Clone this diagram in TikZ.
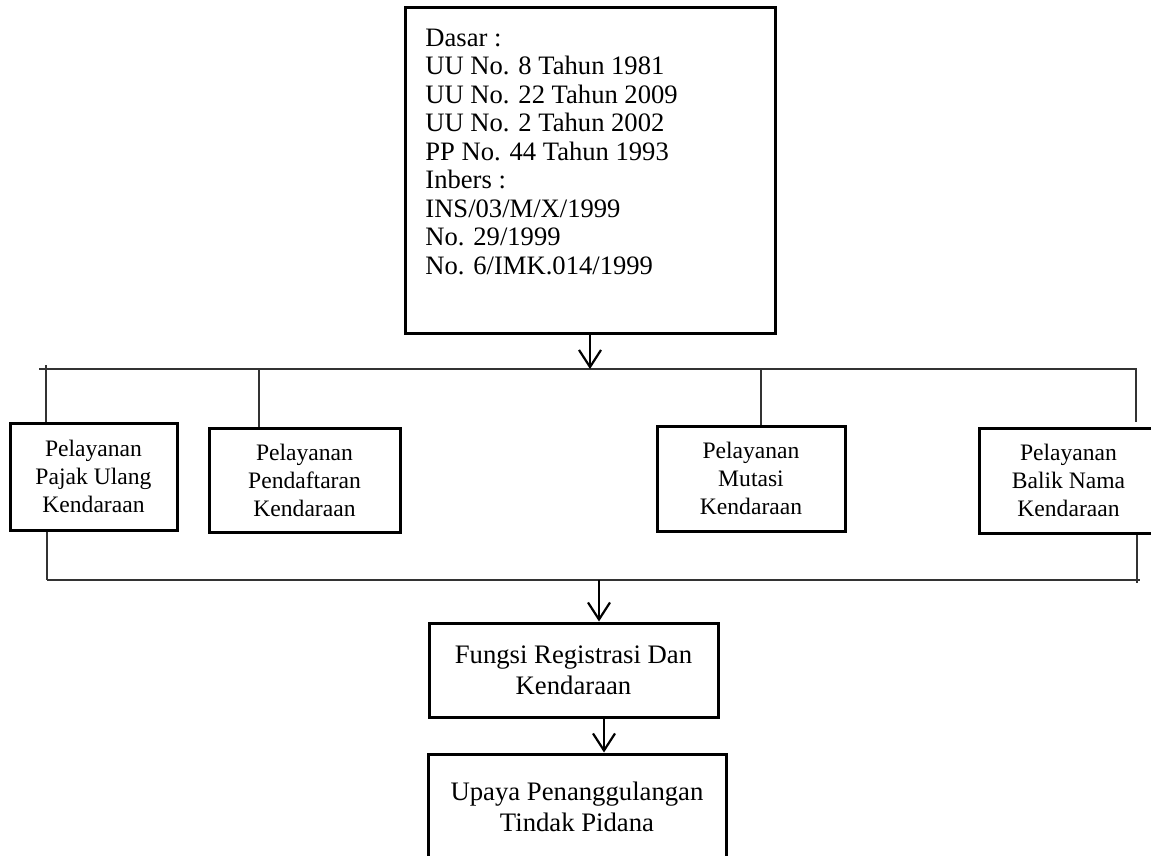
\documentclass[tikz,border=0pt]{standalone}
\usepackage{fontspec}
\setmainfont{Liberation Serif}
\usetikzlibrary{arrows.meta}
\begin{document}
\begin{tikzpicture}[x=0.5pt,y=-0.5pt,
  boxstyle/.style={draw=black, line width=1.5pt, inner sep=0pt, align=center},
  svcbox/.style={boxstyle, font=\fontsize{11.8pt}{14pt}\selectfont},
  bigbox/.style={boxstyle, font=\fontsize{13.35pt}{15.5pt}\selectfont},
  conn/.style={draw=black!80, line width=0.7pt},
  arr/.style={draw=black, line width=1.1pt, -{Straight Barb[length=8.5pt,width=11pt,line width=1.1pt]}}]
\useasboundingbox (0,0) rectangle (1151,856);
\clip (0,0) rectangle (1151,856);

% top box with legal basis
\node[boxstyle, minimum width=185pt, minimum height=162.5pt] (top) at (590,170.5) {};
\node[anchor=north west, inner sep=0pt, align=left, font=\fontsize{13.3pt}{14.25pt}\selectfont] (toptext) at (425,28.3)
 {Dasar :\\UU No. 8 Tahun 1981\\UU No. 22 Tahun 2009\\UU No. 2 Tahun 2002\\PP No. 44 Tahun 1993\\Inbers :\\INS/03/M/X/1999\\No. 29/1999\\No. 6/IMK.014/1999};

% service boxes
\node[svcbox, minimum width=83.5pt, minimum height=53.5pt] (b1) at (93.5,476.5) {Pelayanan\\Pajak Ulang\\Kendaraan};
\node[svcbox, minimum width=95.5pt, minimum height=52pt] (b2) at (304.5,480) {Pelayanan\\Pendaftaran\\Kendaraan};
\node[svcbox, minimum width=94pt, minimum height=52.5pt] (b3) at (751,478.5) {Pelayanan\\Mutasi\\Kendaraan};
\node[svcbox, minimum width=89.5pt, minimum height=52.5pt] (b4) at (1068.5,480.5) {Pelayanan\\Balik Nama\\Kendaraan};

% lower boxes
\node[bigbox, minimum width=144.5pt, minimum height=47pt] (fungsi) at (573.5,670) {Fungsi Registrasi Dan\\Kendaraan};
\node[bigbox, minimum width=149pt, minimum height=53pt] (upaya) at (577,807) {Upaya Penanggulangan\\Tindak Pidana};

% upper distribution line
\coordinate (ul) at (39,369);
\coordinate (ur) at (1136,369);
\coordinate (t1) at (46,365);
\coordinate (t4) at (1136,422);
\draw[conn] (ul) -- (ur) -- (t4);
\draw[conn] (t1) -- (t1 |- b1.north);
\draw[conn] (259,369 |- ul) -- (259,369 |- b2.north);
\draw[conn] (761,369 |- ul) -- (761,369 |- b3.north);
\draw[arr] (top.south) -- (top.south |- ul);

% lower collecting line
\coordinate (ll) at (47,580);
\coordinate (lr) at (1140,580);
\coordinate (t5) at (1137,583);
\draw[conn] (ll) -- (lr);
\draw[conn] (ll |- b1.south) -- (ll);
\draw[conn] (t5 |- b4.south) -- (t5);
\coordinate (a2) at (599,580);
\draw[arr] (a2) -- (a2 |- fungsi.north);
\coordinate (a3) at (604,717);
\draw[arr] (a3) -- (a3 |- upaya.north);
\end{tikzpicture}
\end{document}
